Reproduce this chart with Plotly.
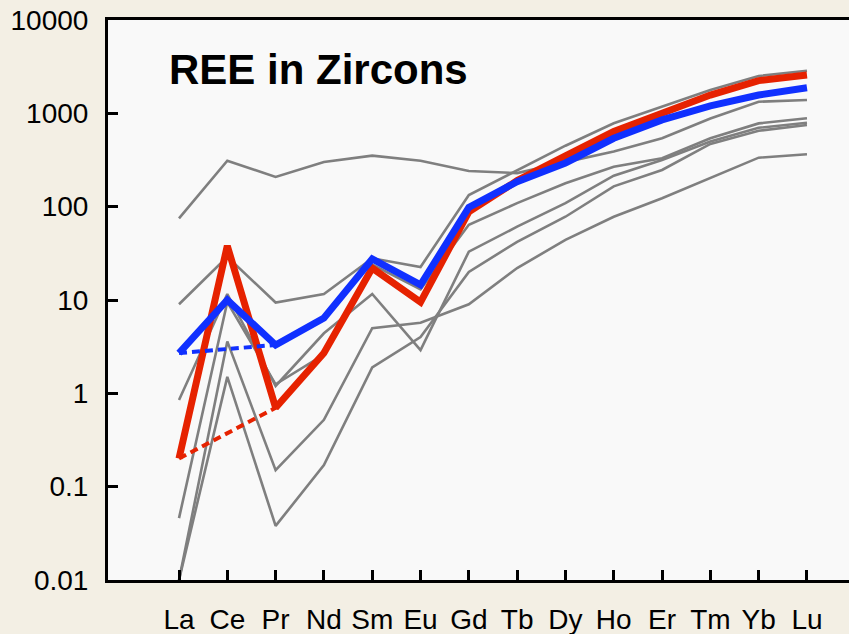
import plotly.graph_objects as go

elements = ["La", "Ce", "Pr", "Nd", "Sm", "Eu", "Gd", "Tb", "Dy", "Ho", "Er", "Tm", "Yb", "Lu"]

gray_a = [75, 311, 208, 301, 352, 311, 241, 229, 300, 390, 540, 880, 1330, 1390]
gray_b = [9, 29, 9.4, 11.6, 28, 22.6, 133, 247, 450, 782, 1190, 1780, 2510, 2865]
gray_c = [0.85, 11.6, 1.2, 4.4, 11.6, 2.9, 33, 61, 109, 215, 316, 500, 700, 794]
gray_d = [0.046, 9.5, 1.25, 2.6, 24, 13, 64, 109, 178, 268, 330, 540, 780, 885]
gray_e = [0.01, 3.6, 0.15, 0.52, 5.0, 5.7, 9, 22, 44, 78, 123, 201, 335, 364]
gray_f = [0.01, 1.5, 0.038, 0.17, 1.9, 4.0, 20, 42, 78, 165, 247, 470, 650, 750]

red_vals = [0.2, 38, 0.7, 2.7, 22, 9.5, 88, 190, 350, 640, 1000, 1570, 2240, 2575]
blue_vals = [2.7, 10, 3.3, 6.4, 27.5, 14.5, 98, 185, 294, 540, 850, 1200, 1570, 1880]

red_interp = [0.2, 0.7]      # La -> Pr (Ce anomaly removed)
blue_interp = [2.7, 3.3]
interp_elements = ["La", "Pr"]

y_ticks = [0.01, 0.1, 1, 10, 100, 1000, 10000]
y_ticktext = ["0.01", "0.1", "1", "10", "100", "1000", "10000"]

xpos = list(range(len(elements)))
idx = {e: i for i, e in enumerate(elements)}

GRAY = "#7f7f7f"
RED = "#e62200"
BLUE = "#1030ff"
BG = "#f3efe4"
FONT = "Liberation Sans, Arial, sans-serif"

fig = go.Figure()
for g in [gray_a, gray_b, gray_c, gray_d, gray_e, gray_f]:
    fig.add_trace(go.Scatter(x=xpos, y=g, mode="lines",
                             line=dict(color=GRAY, width=2.6),
                             showlegend=False, hoverinfo="skip"))

fig.add_trace(go.Scatter(x=[idx[e] for e in interp_elements], y=red_interp, mode="lines",
                         line=dict(color=RED, width=4, dash="8px,5px"),
                         showlegend=False))
fig.add_trace(go.Scatter(x=xpos, y=red_vals, mode="lines",
                         line=dict(color=RED, width=7), showlegend=False))
fig.add_trace(go.Scatter(x=[idx[e] for e in interp_elements], y=blue_interp, mode="lines",
                         line=dict(color=BLUE, width=4, dash="8px,5px"),
                         showlegend=False))
fig.add_trace(go.Scatter(x=xpos, y=blue_vals, mode="lines",
                         line=dict(color=BLUE, width=7), showlegend=False))

fig.add_annotation(text="<b>REE in Zircons</b>", xref="paper", yref="paper",
                   x=0.08, y=0.9125, xanchor="left", yanchor="middle",
                   showarrow=False, font=dict(family=FONT, size=42, color="black"))

fig.update_layout(
    width=849, height=634,
    margin=dict(l=108, r=0, t=20, b=54),
    paper_bgcolor=BG,
    plot_bgcolor="#f9f9f9",
    font=dict(family=FONT, size=28, color="black"),
    xaxis=dict(range=[-1.47, 13.87], tickmode="array", tickvals=xpos, ticktext=elements,
               showgrid=False, zeroline=False, showline=True, linecolor="black",
               linewidth=3, mirror=True, ticks="inside", ticklen=10, tickwidth=3,
               tickcolor="black", ticklabelstandoff=12,
               tickfont=dict(family=FONT, size=28, color="black")),
    yaxis=dict(type="log", range=[-2, 4], tickmode="array", tickvals=y_ticks,
               ticktext=y_ticktext, showgrid=False, zeroline=False, showline=True,
               linecolor="black", linewidth=3, ticks="inside", ticklen=10,
               tickwidth=3, tickcolor="black", ticklabelstandoff=11,
               tickfont=dict(family=FONT, size=28, color="black")),
)

fig.write_html(
    "out.html",
    config={"displayModeBar": False},
    post_script="document.body.style.margin='0';document.body.style.background='%s';" % BG,
)
